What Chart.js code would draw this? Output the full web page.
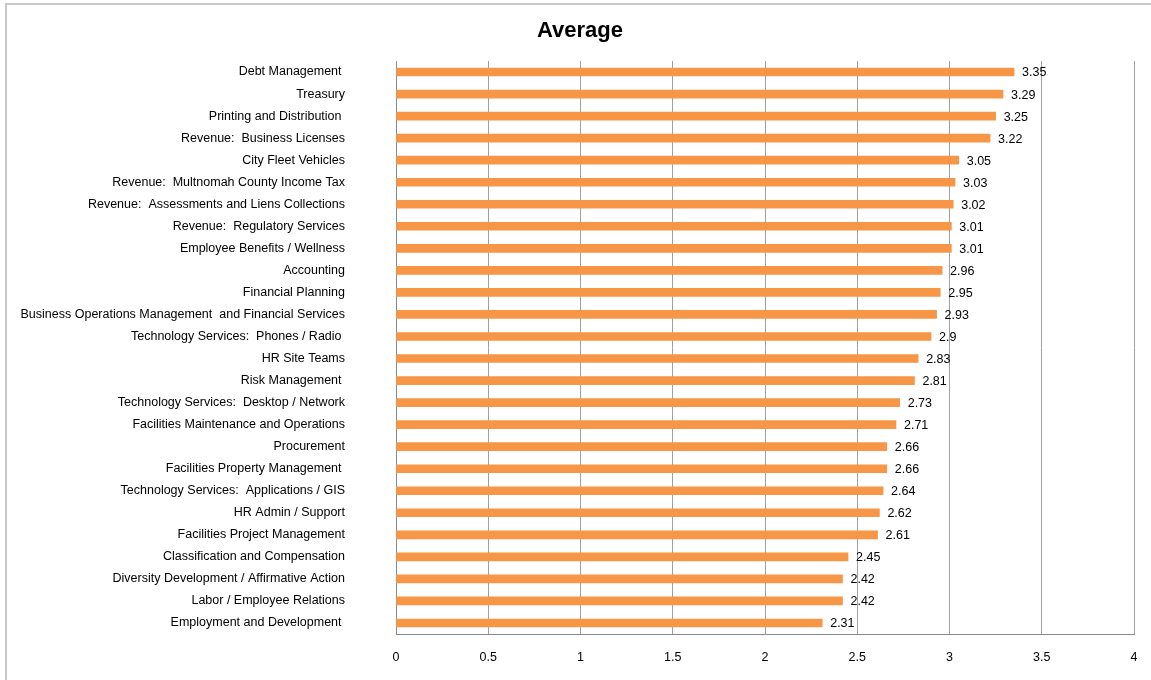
<!DOCTYPE html>
<html>
<head>
<meta charset="utf-8">
<script src="https://cdn.jsdelivr.net/npm/chart.js@4"></script>
<style>
  html, body { margin: 0; padding: 0; background: #fff; overflow: hidden; }
  #wrap { position: relative; width: 1151px; height: 680px; }
  #frame { position: absolute; left: 5px; top: 3px; width: 1160px; height: 700px; border: 2px solid #c8c8c8; box-sizing: border-box; pointer-events: none; }
  canvas { position: absolute; left: 0; top: 0; }
</style>
</head>
<body>
<div id="wrap">
  <canvas id="c" width="1151" height="680"></canvas>
  <div id="frame"></div>
</div>
<script>
const chartTitle = "Average";
const categories = [
  "Debt Management ",
  "Treasury",
  "Printing and Distribution ",
  "Revenue:  Business Licenses",
  "City Fleet Vehicles",
  "Revenue:  Multnomah County Income Tax",
  "Revenue:  Assessments and Liens Collections",
  "Revenue:  Regulatory Services",
  "Employee Benefits / Wellness",
  "Accounting",
  "Financial Planning",
  "Business Operations Management  and Financial Services",
  "Technology Services:  Phones / Radio ",
  "HR Site Teams",
  "Risk Management ",
  "Technology Services:  Desktop / Network",
  "Facilities Maintenance and Operations",
  "Procurement",
  "Facilities Property Management ",
  "Technology Services:  Applications / GIS",
  "HR Admin / Support",
  "Facilities Project Management",
  "Classification and Compensation",
  "Diversity Development / Affirmative Action",
  "Labor / Employee Relations",
  "Employment and Development "
];
const averages = [3.35, 3.29, 3.25, 3.22, 3.05, 3.03, 3.02, 3.01, 3.01, 2.96, 2.95, 2.93, 2.9, 2.83, 2.81, 2.73, 2.71, 2.66, 2.66, 2.64, 2.62, 2.61, 2.45, 2.42, 2.42, 2.31];
const xTickLabels = ["0", "0.5", "1", "1.5", "2", "2.5", "3", "3.5", "4"];

const FONT = "'Liberation Sans', Arial, sans-serif";

const valueLabels = {
  id: 'valueLabels',
  afterDatasetsDraw(chart) {
    const ctx = chart.ctx;
    const meta = chart.getDatasetMeta(0);
    ctx.save();
    ctx.font = "12.5px " + FONT;
    ctx.fillStyle = "#000";
    ctx.textAlign = "left";
    ctx.textBaseline = "middle";
    meta.data.forEach((bar, i) => {
      ctx.fillText(String(averages[i]), bar.x + 8, bar.y + 1);
    });
    ctx.restore();
  }
};

const titlePlugin = {
  id: 'titlePlugin',
  afterDraw(chart) {
    const ctx = chart.ctx;
    ctx.save();
    ctx.font = "bold 22px " + FONT;
    ctx.fillStyle = "#000";
    ctx.textAlign = "center";
    ctx.textBaseline = "middle";
    ctx.fillText(chartTitle, 580, 31);
    ctx.restore();
  }
};

new Chart(document.getElementById('c'), {
  type: 'bar',
  data: {
    labels: categories,
    datasets: [{
      label: chartTitle,
      data: averages,
      backgroundColor: '#F79646',
      borderWidth: 0,
      barThickness: 8
    }]
  },
  plugins: [valueLabels, titlePlugin],
  options: {
    indexAxis: 'y',
    responsive: false,
    devicePixelRatio: 1,
    animation: false,
    layout: { padding: { left: 10, right: 17, top: 61, bottom: 15 } },
    plugins: {
      legend: { display: false },
      tooltip: { enabled: false },
      title: { display: false }
    },
    scales: {
      x: {
        min: 0,
        max: 4,
        afterFit(scale) { scale.height = 31; scale.paddingLeft = 0; scale.paddingRight = 0; },
        ticks: {
          stepSize: 0.5,
          color: '#000',
          padding: 16,
          maxRotation: 0,
          font: { family: FONT, size: 12.5 },
          callback: (v, i) => xTickLabels[i]
        },
        grid: { color: '#a0a0a0', lineWidth: 1, drawTicks: false },
        border: { display: true, color: '#888', width: 1 }
      },
      y: {
        afterFit(scale) { scale.width = 386; scale.paddingTop = 0; scale.paddingBottom = 0; },
        ticks: {
          color: '#000',
          padding: 51,
          autoSkip: false,
          font: { family: FONT, size: 12.5 }
        },
        grid: { display: false, drawTicks: false },
        border: { display: true, color: '#888', width: 1 }
      }
    }
  }
});
</script>
</body>
</html>
